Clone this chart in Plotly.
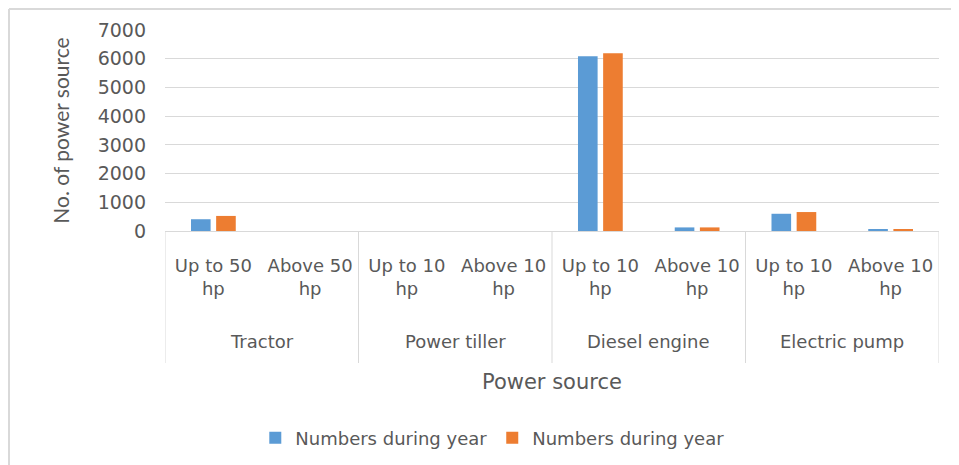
import plotly.graph_objects as go

groups = ["Tractor", "Tractor", "Power tiller", "Power tiller",
          "Diesel engine", "Diesel engine", "Electric pump", "Electric pump"]
subs = ["Up to 50<br>hp", "Above 50<br>hp", "Up to 10<br>hp", "Above 10<br>hp",
        "Up to 10<br>hp", "Above 10<br>hp", "Up to 10<br>hp", "Above 10<br>hp"]
series1 = [410, 0, 0, 0, 6090, 125, 600, 55]
series2 = [525, 0, 0, 0, 6190, 125, 660, 55]
series_names = ["Numbers during year", "Numbers during year"]
colors = ["#5B9BD5", "#ED7D31"]
x_title = "Power source"
y_title = "No. of power source"

FONT = "DejaVu Sans, sans-serif"
TXT = "#595959"
GRID = "#D9D9D9"

# page body has an 8px margin; plot area wanted at window x 165..939, y 30..231
L, T, PW, PH = 157, 22, 774, 201

keys = [g + " | " + s for g, s in zip(groups, subs)]

fig = go.Figure()
for vals, name, c in zip([series1, series2], series_names, colors):
    fig.add_trace(go.Bar(x=keys, y=vals, name=name,
                         marker=dict(color=c, line=dict(width=0))))

# group labels and dividers (category positions derived from the groups list)
unique_groups = list(dict.fromkeys(groups))
annotations = []
shapes = []
bounds = [-0.5]
for g in unique_groups:
    idx = [i for i, gg in enumerate(groups) if gg == g]
    annotations.append(dict(x=sum(idx) / len(idx), y=-110 / PH, xref="x", yref="paper",
                            text=g, showarrow=False, xanchor="center", yanchor="middle",
                            font=dict(size=18, color=TXT, family=FONT)))
    bounds.append(idx[-1] + 0.5)
for b in bounds:
    shapes.append(dict(type="line", xref="x", yref="paper", x0=b, x1=b, y0=0, y1=-132 / PH,
                       line=dict(color=GRID, width=1)))
annotations.append(dict(x=0.5, y=-151 / PH, xref="paper", yref="paper", text=x_title,
                        showarrow=False, xanchor="center", yanchor="middle",
                        font=dict(size=21, color=TXT, family=FONT)))
shapes += [
    dict(type="line", xref="paper", yref="paper", x0=-(L - 1) / PW, x1=(959 - L) / PW,
         y0=1 + (T - 1) / PH, y1=1 + (T - 1) / PH, line=dict(color=GRID, width=2)),
    dict(type="line", xref="paper", yref="paper", x0=-(L - 1) / PW, x1=-(L - 1) / PW,
         y0=1 + (T - 1) / PH, y1=-(465 - T - PH) / PH, line=dict(color=GRID, width=2)),
]

fig.update_layout(
    width=959, height=465,
    paper_bgcolor="white", plot_bgcolor="white",
    margin=dict(l=L, r=959 - L - PW, t=T, b=465 - T - PH, autoexpand=False),
    barmode="group", bargap=0.48, bargroupgap=0.22,
    font=dict(family=FONT, color=TXT, size=18),
    showlegend=True,
    legend=dict(orientation="h", xref="container", yref="container",
                x=0.505, y=0.0753, xanchor="center", yanchor="middle",
                font=dict(size=18, color=TXT, family=FONT),
                traceorder="normal", itemwidth=30),
    xaxis=dict(type="category", showline=True, linecolor=GRID, linewidth=1,
               showgrid=False, ticks="", tickangle=0,
               tickvals=keys, ticktext=subs,
               tickfont=dict(size=18, color=TXT, family=FONT),
               ticklabelstandoff=18, range=[-0.5, len(keys) - 0.5]),
    yaxis=dict(range=[0, 7000], dtick=1000, showgrid=True, gridcolor=GRID, gridwidth=1,
               zeroline=False, showline=False, ticks="", tickformat="d",
               tickfont=dict(size=19, color=TXT, family=FONT), ticklabelstandoff=18,
               title=dict(text=y_title, font=dict(size=21, color=TXT, family="Lato, sans-serif"),
                          standoff=22)),
    annotations=annotations,
    shapes=shapes,
)

fig.write_html("out.html")
